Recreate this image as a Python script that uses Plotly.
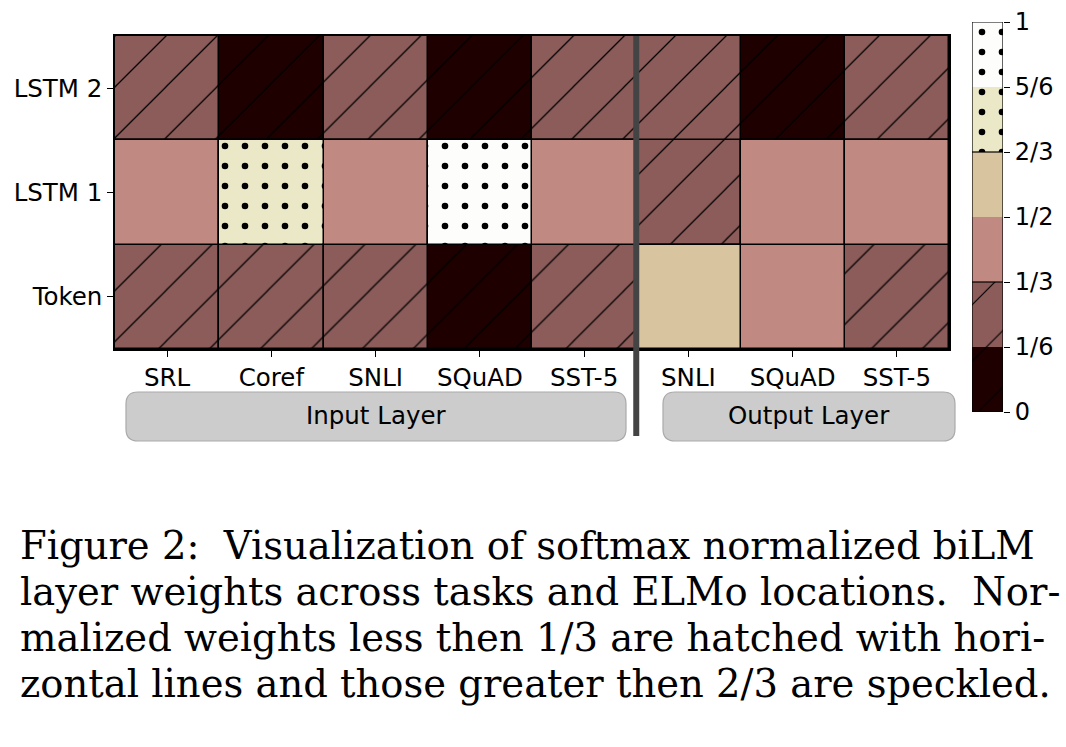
import plotly.graph_objects as go

# ---------------- data ----------------
tasks = ["SRL", "Coref", "SNLI", "SQuAD", "SST-5", "SNLI", "SQuAD", "SST-5"]
layers = ["Token", "LSTM 1", "LSTM 2"]
token_w = [0.28, 0.20, 0.30, 0.05, 0.30, 0.55, 0.45, 0.30]
lstm1_w = [0.45, 0.72, 0.42, 0.90, 0.40, 0.25, 0.45, 0.40]
lstm2_w = [0.27, 0.08, 0.28, 0.05, 0.30, 0.20, 0.10, 0.30]
bin_edges = [0, 1/6, 1/3, 1/2, 2/3, 5/6, 1]
bin_labels = ["0", "1/6", "1/3", "1/2", "2/3", "5/6", "1"]
bin_colors = ["#1e0000", "#8c5c5a", "#c08a82", "#d9c4a0", "#ebe8c8", "#fdfdfc"]
groups = ["Input Layer", "Output Layer"]
caption_lines = [
    "Figure 2:  Visualization of softmax normalized biLM",
    "layer weights across tasks and ELMo locations.  Nor-",
    "malized weights less then 1/3 are hatched with hori-",
    "zontal lines and those greater then 2/3 are speckled.",
]

W, H = 1066, 747
FONT = "DejaVu Sans"
TFS = 24.5


def px_x(p):
    return p / W


def px_y(p):
    return 1 - p / H


def bin_of(v):
    return min(int(v * 6), 5)


def pattern_for(b, cbar=False):
    if b <= 1:
        shape, size, sol = "/", (40 if cbar else 36), (0.03 if cbar else 0.035)
    elif b >= 4:
        shape, size, sol = ".", 20, 0.085
    else:
        return dict(shape="")
    return dict(shape=shape, size=size, solidity=sol, fillmode="overlay",
                bgcolor=bin_colors[b], fgcolor="black", fgopacity=1)


fig = go.Figure()

rows = [token_w, lstm1_w, lstm2_w]
# one trace per colour bin so that each trace has a single colour + pattern
for b in range(len(bin_colors)):
    xs, bases, vals = [], [], []
    for r, row in enumerate(rows):
        for c, v in enumerate(row):
            if bin_of(v) == b:
                xs.append(c)
                bases.append(r)
                vals.append(v)
    if not xs:
        continue
    fig.add_trace(go.Bar(
        x=xs, y=[1] * len(xs), base=bases, width=1,
        marker=dict(color=bin_colors[b], line=dict(color="black", width=1.5),
                    pattern=pattern_for(b)),
        customdata=vals,
        hovertemplate="%{customdata:.2f}<extra></extra>",
        showlegend=False, xaxis="x", yaxis="y",
    ))

# colorbar drawn as stacked bars
for b in range(len(bin_colors)):
    fig.add_trace(go.Bar(
        x=[0], y=[bin_edges[b + 1] - bin_edges[b]], base=[bin_edges[b]], width=1,
        marker=dict(color=bin_colors[b], line=dict(width=0),
                    pattern=pattern_for(b, cbar=True)),
        showlegend=False, hoverinfo="skip", xaxis="x2", yaxis="y2",
    ))

axis_common = dict(showgrid=False, zeroline=False, automargin=False, fixedrange=True)

fig.update_layout(
    width=W, height=H,
    margin=dict(l=0, r=0, t=0, b=0, pad=0),
    paper_bgcolor="white",
    plot_bgcolor="white",
    barmode="overlay",
    bargap=0,
    font=dict(family=FONT, size=TFS, color="black"),
    xaxis=dict(
        domain=[px_x(115), px_x(949)],
        range=[-0.5, len(tasks) - 0.5],
        tickvals=list(range(len(tasks))),
        ticktext=tasks,
        ticks="outside", ticklen=6, tickwidth=1, tickcolor="black",
        showline=True, linecolor="black", linewidth=1.5, mirror=True,
        tickfont=dict(family=FONT, size=TFS),
        **axis_common,
    ),
    yaxis=dict(
        domain=[px_y(349), px_y(36)],
        range=[0, len(layers)],
        tickvals=[i + 0.5 for i in range(len(layers))],
        ticktext=layers,
        ticks="outside", ticklen=6, tickwidth=1, tickcolor="black",
        showline=True, linecolor="black", linewidth=1.5, mirror=True,
        tickfont=dict(family=FONT, size=TFS),
        **axis_common,
    ),
    xaxis2=dict(
        domain=[px_x(972), px_x(1003)],
        range=[-0.5, 0.5],
        showticklabels=False, ticks="", showline=False, anchor="y2",
        **axis_common,
    ),
    yaxis2=dict(
        domain=[px_y(412), px_y(22)],
        range=[0, 1],
        side="right", anchor="x2",
        tickvals=bin_edges, ticktext=bin_labels,
        ticks="outside", ticklen=6, tickwidth=1, tickcolor="black",
        showline=False,
        tickfont=dict(family=FONT, size=24),
        **axis_common,
    ),
)

shapes = []
shapes.append(dict(type="rect", xref="x2", yref="y2", x0=-0.5, x1=0.5, y0=0, y1=1,
                   line=dict(color="black", width=1.2), fillcolor="rgba(0,0,0,0)"))
for e in (bin_edges[2], bin_edges[4]):
    shapes.append(dict(type="line", xref="x2", yref="y2", x0=-0.5, x1=0.5, y0=e, y1=e,
                       line=dict(color="black", width=1.2)))

# thick separator between input and output tasks
shapes.append(dict(type="line", xref="x", yref="paper", x0=4.5, x1=4.5,
                   y0=px_y(436), y1=px_y(36),
                   line=dict(color="#444444", width=6)))


def rounded_rect(x0, y0, x1, y1, r):
    def P(x, y):
        return f"{px_x(x):.5f},{px_y(y):.5f}"
    return (f"M {P(x0 + r, y0)} L {P(x1 - r, y0)} Q {P(x1, y0)} {P(x1, y0 + r)} "
            f"L {P(x1, y1 - r)} Q {P(x1, y1)} {P(x1 - r, y1)} "
            f"L {P(x0 + r, y1)} Q {P(x0, y1)} {P(x0, y1 - r)} "
            f"L {P(x0, y0 + r)} Q {P(x0, y0)} {P(x0 + r, y0)} Z")


boxes = [(126, 392, 626, 441), (663, 392, 955, 441)]
annotations = []
for (bx0, by0, bx1, by1), label in zip(boxes, groups):
    shapes.append(dict(type="path", xref="paper", yref="paper",
                       path=rounded_rect(bx0, by0, bx1, by1, 12),
                       fillcolor="#cccccc", line=dict(color="#aaaaaa", width=1.2)))
    annotations.append(dict(text=label, xref="paper", yref="paper",
                            x=px_x((bx0 + bx1) / 2), y=px_y((by0 + by1) / 2 - 1),
                            xanchor="center", yanchor="middle", showarrow=False,
                            font=dict(family=FONT, size=TFS, color="black")))

caption_y = [545, 591, 637, 683]
for line, cy in zip(caption_lines, caption_y):
    annotations.append(dict(text=line, xref="paper", yref="paper",
                            x=px_x(18), y=px_y(cy), xanchor="left", yanchor="middle",
                            showarrow=False,
                            font=dict(family="DejaVu Serif", size=38.5, color="black")))

fig.update_layout(shapes=shapes, annotations=annotations)

fig.write_html("out.html")
